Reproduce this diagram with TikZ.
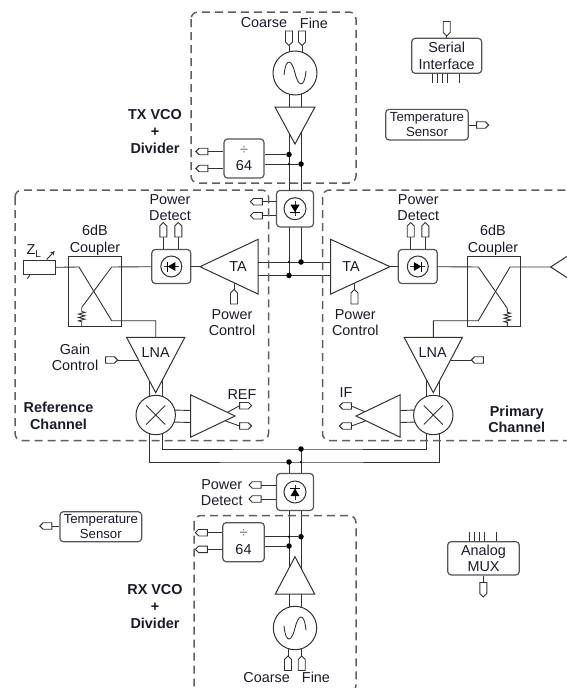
\documentclass[tikz,border=0pt]{standalone}
\usepackage{fontspec}
\setmainfont{Liberation Sans}
\usepackage{tikz}
\usetikzlibrary{shapes.geometric,shapes.symbols,arrows.meta,backgrounds,calc,decorations.pathmorphing}
\definecolor{inkdark}{RGB}{25,28,40}
\definecolor{linedark}{RGB}{50,50,50}
\definecolor{boxedge}{RGB}{85,85,85}
\definecolor{dashgray}{RGB}{95,95,95}
\definecolor{signgray}{RGB}{105,105,115}
\tikzset{
  lab/.style={text=inkdark,align=center,inner sep=0pt,font=\fontsize{14.4}{16.6}\selectfont},
  blab/.style={lab,font=\fontsize{14.4}{16.6}\selectfont\bfseries},
  wire/.style={draw=linedark,line width=0.9pt},
  rbox/.style={rectangle,rounded corners=3.5pt,draw=boxedge,line width=1.2pt,fill=white,lab},
  cbox/.style={rectangle,draw=linedark,line width=0.9pt,inner sep=0pt},
  zone/.style={draw=dashgray,line width=1.5pt,dash pattern=on 8pt off 5pt,rounded corners=7pt},
  tri/.style={isosceles triangle,isosceles triangle stretches,draw=linedark,fill=white,
              line width=1pt,inner sep=0pt,outer sep=0pt,anchor=apex},
  disc/.style={circle,draw=linedark,fill=white,line width=1pt,inner sep=0pt,outer sep=0pt},
  pinh/.style={signal,draw=linedark,fill=white,line width=0.9pt,inner sep=0pt,outer sep=0pt,
               minimum width=12pt,minimum height=6.5pt},
  pinv/.style={signal,draw=linedark,fill=white,line width=0.9pt,inner sep=0pt,outer sep=0pt,
               minimum width=7pt,minimum height=11pt},
  pinw/.style={pinh,signal to=west},
  pine/.style={pinh,signal to=east},
  pinn/.style={pinv,signal to=north},
  pinz/.style={pinv,signal to=south},
  bigdot/.style={circle,fill=black,inner sep=0pt,minimum size=5.5pt},
  tinydot/.style={circle,fill=black,inner sep=0pt,minimum size=2.4pt},
}
\begin{document}
\begin{tikzpicture}[x=1pt,y=-1pt]
  \useasboundingbox (0,0) rectangle (566,688);
  % ── dashed block outlines ──
  \draw[zone] (191,12) rectangle (356,183);
  \draw[zone] (15,190) rectangle (268.5,440.5);
  \draw[zone] (322.5,190) rectangle (585,440.5);
  \draw[zone] (194,515.5) rectangle (356,692);
  % ── TX VCO + divider ──
  \node[lab] (coarset) at (264,23) {Coarse};
  \node[lab] (finet)   at (314,23) {Fine};
  \node[pinz] (pct) at (289,36.5) {};
  \node[pinz] (pft) at (302,36.5) {};
  \node[disc,minimum size=44pt] (vcot) at (295,73) {};
  \node[tri,minimum width=40pt,minimum height=37pt,shape border rotate=-90] (buft) at (295,144) {};
  \node[rbox,minimum width=40pt,minimum height=39pt] (divt) at (244,158.5) {\textcolor{signgray}{÷}\\64};
  \node[pinw] (pdt1) at (203.5,151.5) {};
  \node[pinw] (pdt2) at (203.5,168.5) {};
  \node[blab] (txlab) at (155,131.5) {TX VCO\\+\\Divider};
  \node[bigdot]  (jt1) at (289,154.5) {};
  \node[bigdot]  (jt2) at (301,164) {};
  \node[tinydot] (jt3) at (289,164) {};
  % ── LO distribution, top ──
  \node[rbox,minimum width=37pt,minimum height=36.5pt] (dbt) at (295,208.7) {};
  \node[disc,minimum size=22pt] (ddt) at (dbt.center) {};
  \node[pinw] (pbt1) at (258,201.7) {};
  \node[pinw] (pbt2) at (258,215.7) {};
  \node[bigdot]  (jm1) at (301,262) {};
  \node[bigdot]  (jm2) at (289,275.5) {};
  \node[tinydot] (jm3) at (289,262) {};
  % ── Reference channel ──
  \node[tri,minimum width=54.7pt,minimum height=58pt,shape border rotate=180] (tal) at (200,266.7) {};
  \node[lab] (taltxt) at (238,266.7) {TA};
  \node[pinn] (pcl) at (234,298.5) {};
  \node[lab] (pctxl) at (232,322.5) {Power\\Control};
  \node[rbox,minimum width=39pt,minimum height=34pt] (dbl) at (171.3,266.5) {};
  \node[disc,minimum size=21pt] (ddl) at (dbl.center) {};
  \node[pinn] (pdl1) at (163.3,231.5) {};
  \node[pinn] (pdl2) at (178.3,231.5) {};
  \node[lab] (pdtxl) at (170,207.5) {Power\\Detect};
  \node[cbox,minimum width=53.4pt,minimum height=70pt] (cpl) at (95,291.7) {};
  \node[lab] (cptxl) at (95,240) {6dB\\Coupler};
  \node[cbox,minimum width=32.4pt,minimum height=14.7pt] (zl) at (39.5,267.3) {};
  \node[lab] (zltxt) at (34,251) {Z\textsubscript{L}};
  \node[tri,minimum width=58.3pt,minimum height=55.4pt,shape border rotate=-90] (lnal) at (155.7,392.7) {};
  \node[lab] (lnaltxt) at (155.7,352.3) {LNA};
  \node[pine] (pgl) at (110,360) {};
  \node[lab] (gaintxt) at (75,357.5) {Gain\\Control};
  \node[disc,minimum size=39.4pt] (mixl) at (155.7,415) {};
  \node[tri,minimum width=42.3pt,minimum height=44.3pt] (ampl) at (235,416) {};
  \node[pine] (pol1) at (244,405.7) {};
  \node[pine] (pol2) at (244,426) {};
  \node[lab] (reftxt) at (242,394.3) {REF};
  \node[blab] (refchan) at (58.5,416) {Reference\\Channel};
  % ── Primary channel ──
  \node[tri,minimum width=54.7pt,minimum height=59.3pt] (tar) at (390,266.7) {};
  \node[lab] (tartxt) at (351,266.7) {TA};
  \node[pinn] (pcr) at (354.5,298.5) {};
  \node[lab] (pctxr) at (355.3,322.5) {Power\\Control};
  \node[rbox,minimum width=39pt,minimum height=34pt] (dbr) at (417.8,266.5) {};
  \node[disc,minimum size=21pt] (ddr) at (dbr.center) {};
  \node[pinn] (pdr1) at (410.7,231.5) {};
  \node[pinn] (pdr2) at (425.3,231.5) {};
  \node[lab] (pdtxr) at (418.3,207.5) {Power\\Detect};
  \node[cbox,minimum width=53.4pt,minimum height=70pt] (cpr) at (494,291.7) {};
  \node[lab] (cptxr) at (493,240) {6dB\\Coupler};
  \node[tri,minimum width=26pt,minimum height=20pt,shape border rotate=180] (ant) at (550.7,267) {};
  \node[tri,minimum width=58.3pt,minimum height=55.4pt,shape border rotate=-90] (lnar) at (433.3,392.7) {};
  \node[lab] (lnartxt) at (432.7,352.3) {LNA};
  \node[pinw] (pgr) at (479,360) {};
  \node[disc,minimum size=39.4pt] (mixr) at (433.3,415) {};
  \node[tri,minimum width=42.3pt,minimum height=44pt,shape border rotate=180] (ampr) at (356,416) {};
  \node[pinw] (por1) at (347,406) {};
  \node[pinw] (por2) at (347,426) {};
  \node[lab] (iftxt) at (346,392.7) {IF};
  \node[blab] (prichan) at (516.7,419.5) {Primary\\Channel};
  % ── LO distribution, bottom ──
  \node[bigdot]  (jb1) at (301,449) {};
  \node[bigdot]  (jb2) at (289,462) {};
  \node[tinydot] (jb3) at (301,462) {};
  \node[rbox,minimum width=37pt,minimum height=37pt] (dbb) at (295,492) {};
  \node[disc,minimum size=22pt] (ddb) at (dbb.center) {};
  \node[pinw] (pbb1) at (256.7,485) {};
  \node[pinw] (pbb2) at (256.7,499) {};
  \node[lab] (pdtxb) at (221.7,492.5) {Power\\Detect};
  % ── RX VCO + divider ──
  \node[rbox,minimum width=41.6pt,minimum height=39pt] (divb) at (243.5,542.2) {\textcolor{signgray}{÷}\\64};
  \node[pinw] (pdb1) at (203,532.7) {};
  \node[pinw] (pdb2) at (203,549.3) {};
  \node[bigdot]  (jr1) at (301,536.7) {};
  \node[bigdot]  (jr2) at (289,546) {};
  \node[tinydot] (jr3) at (289,536.7) {};
  \node[tri,minimum width=39.5pt,minimum height=37.5pt,shape border rotate=90] (bufb) at (295,556.7) {};
  \node[disc,minimum size=43.4pt] (vcob) at (295,628) {};
  \node[pinn] (pcb) at (288,665) {};
  \node[pinn] (pfb) at (301.7,665) {};
  \node[lab] (coarseb) at (266.7,677.7) {Coarse};
  \node[lab] (fineb)   at (316,677.7) {Fine};
  \node[blab] (rxlab) at (155,606.5) {RX VCO\\+\\Divider};
  % ── stand-alone blocks ──
  \node[rbox,minimum width=70pt,minimum height=35pt] (serial) at (446.7,55.8) {Serial\\Interface};
  \node[pinz] (pser) at (446.7,27) {};
  \node[rbox,minimum width=82.6pt,minimum height=30.7pt,font=\fontsize{13.2}{15.4}\selectfont] (tempt) at (427,124.7) {Temperature\\Sensor};
  \node[pine] (ptt) at (481,125) {};
  \node[rbox,minimum width=81.7pt,minimum height=30pt,font=\fontsize{13.2}{15.4}\selectfont] (tempb) at (100.8,526.7) {Temperature\\Sensor};
  \node[pinw] (ptb) at (47.5,526) {};
  \node[rbox,minimum width=71.6pt,minimum height=33.3pt] (amux) at (483.5,558.3) {Analog\\MUX};
  \node[pinz] (pmux) at (483.3,588) {};
  % ── glyphs inside the circles ──
  \foreach \d/\r in {ddt/-90,ddb/90,ddl/180,ddr/0}{
    \begin{scope}[shift={(\d.center)},rotate=\r]
      \draw[wire] (-7.5,0) -- (7.5,0);
      \fill[black] (-4,-4.5) -- (3.5,0) -- (-4,4.5) -- cycle;
      \draw[line width=1.1pt,black] (3.7,-5) -- (3.7,5);
    \end{scope}
  }
  \foreach \m in {mixl,mixr}{
    \draw[wire] ($(\m)+(-9.5,-9.5)$) -- ($(\m)+(9.5,9.5)$);
    \draw[wire] ($(\m)+(-9.5,9.5)$) -- ($(\m)+(9.5,-9.5)$);
  }
  \foreach \v/\s in {vcot/1,vcob/-1}{
    \draw[wire] ($(\v)+(-11,2*\s)$) .. controls ($(\v)+(-9,-17*\s)$) and ($(\v)+(-3,-13*\s)$) .. (\v.center)
      .. controls ($(\v)+(3,13*\s)$) and ($(\v)+(9,17*\s)$) .. ($(\v)+(11,-2*\s)$);
  }
  % ── connectors (behind the white blocks) ──
  \begin{scope}[on background layer]
    \draw[wire] (pct.south) -- (pct.south |- vcot);
    \draw[wire] (pft.south) -- (pft.south |- vcot);
    \draw[wire] ($(vcot)+(-6,0)$) -- (jm2.center);
    \draw[wire] ($(vcot)+(6,0)$) -- (jm1.center);
    \draw[wire] (divt.east |- jt1) -- (jt1);
    \draw[wire] (divt.east |- jt2) -- (jt2);
    \draw[wire] (pdt1.east) -- (pdt1 -| divt.west);
    \draw[wire] (pdt2.east) -- (pdt2 -| divt.west);
    \draw[wire] (pbt1.east) -- (pbt1 -| dbt.west);
    \draw[wire] (pbt2.east) -- (pbt2 -| dbt.west);
    % the two lines between the amplifiers
    \draw[wire] ($(tal.lower side)+(0,-4.7)$) -- ($(tar.lower side)+(0,-4.7)$);
    \draw[wire] ($(tal.lower side)+(0,8.8)$) -- ($(tar.lower side)+(0,8.8)$);
    % left side
    \draw[wire] (tal.apex) -- (dbl.east |- tal.apex);
    \draw[wire] (pcl.north) -- (tal.lower side -| pcl);
    \draw[wire] (pdl1.south) -- (pdl1.south |- dbl.north);
    \draw[wire] (pdl2.south) -- (pdl2.south |- dbl.north);
    \draw[wire] (dbl.west |- tal.apex) -- (111.7,267) -- (81.7,307.5) coordinate (resl);
    \draw[wire,decorate,decoration={zigzag,amplitude=3.2pt,segment length=3.4pt,pre length=4pt,post length=4.5pt}] (resl) -- (resl |- cpl.south);
    \draw[wire] (zl.east) -- (79,267) -- (111.7,320.7) -| (lnal.lower side);
    \draw[wire,-{Stealth[length=4.5pt,width=4.5pt]}] ($(zl.north east)+(-9.5,0)$) -- ($(zl.north east)+(-1.5,-8.5)$);
    \draw[wire] ($(zl.south west)+(7,0)$) -- ++(-2.5,3.5);
    \draw[wire] (pgl.east) -- (lnal.apex |- pgl);
    \draw[wire] ($(mixl)+(-6.5,0)$) -- ($(lnal.apex)+(-6.5,-20)$);
    \draw[wire] ($(mixl)+(6.5,0)$) -- ($(lnal.apex)+(6.5,-20)$);
    \draw[wire] ($(mixl)+(0,-5.5)$) -- ($(ampl.lower side)+(0,-5.5)$);
    \draw[wire] ($(mixl)+(0,6.5)$) -- ($(ampl.lower side)+(0,6.5)$);
    \draw[wire] (pol1.west) -- ++(-14,7.6);
    \draw[wire] (pol2.west) -- ++(-14,-5);
    % right side
    \draw[wire] (tar.apex) -- (dbr.west |- tar.apex);
    \draw[wire] (pcr.north) -- (tar.lower side -| pcr);
    \draw[wire] (pdr1.south) -- (pdr1.south |- dbr.north);
    \draw[wire] (pdr2.south) -- (pdr2.south |- dbr.north);
    \draw[wire] (dbr.east |- tar.apex) -- (478.3,267) -- (507.3,308.3) coordinate (resr);
    \draw[wire,decorate,decoration={zigzag,amplitude=3.2pt,segment length=3.4pt,pre length=4pt,post length=4.5pt}] (resr) -- (resr |- cpr.south);
    \draw[wire] (ant.apex) -- (510,267) -- (478.3,320.7) -| (lnar.lower side);
    \draw[wire] (pgr.east) -- (lnar.apex |- pgr);
    \draw[wire] ($(mixr)+(-6.5,0)$) -- ($(lnar.apex)+(-6.5,-20)$);
    \draw[wire] ($(mixr)+(6.5,0)$) -- ($(lnar.apex)+(6.5,-20)$);
    \draw[wire] ($(mixr)+(0,-5.5)$) -- ($(ampr.lower side)+(0,-5.5)$);
    \draw[wire] ($(mixr)+(0,6.5)$) -- ($(ampr.lower side)+(0,6.5)$);
    \draw[wire] (por1.east) -- ++(14,6);
    \draw[wire] (por2.east) -- ++(14,-5);
    % LO bus
    \draw[wire] ($(mixl)+(-6.5,0)$) |- (jb2.center) -| ($(mixr)+(6.5,0)$);
    \draw[wire] ($(mixl)+(6.5,0)$) |- (jb1.center) -| ($(mixr)+(-6.5,0)$);
    \draw[wire] (jb2.center) -- ($(vcob)+(-6,0)$);
    \draw[wire] (jb1.center) -- ($(vcob)+(6,0)$);
    \draw[wire] (pbb1.east) -- (pbb1 -| dbb.west);
    \draw[wire] (pbb2.east) -- (pbb2 -| dbb.west);
    \draw[wire] (divb.east |- jr1) -- (jr1);
    \draw[wire] (divb.east |- jr2) -- (jr2);
    \draw[wire] (pdb1.east) -- (pdb1 -| divb.west);
    \draw[wire] (pdb2.east) -- (pdb2 -| divb.west);
    \draw[wire] (pcb.north) -- (pcb.north |- vcob);
    \draw[wire] (pfb.north) -- (pfb.north |- vcob);
    % stand-alone blocks
    \draw[wire] (pser.south) -- (serial.north);
    \foreach \x in {-14,-9,-4,1,12.3}{
      \draw[wire] ($(serial.south)+(\x,0)$) -- ++(0,9.5);
    }
    \draw[wire] (tempt.east |- ptt) -- (ptt.west);
    \draw[wire] (tempb.west |- ptb) -- (ptb.east);
    \foreach \x in {-14.2,-9.2,-4.2,0.8,13.2}{
      \draw[wire] ($(amux.north)+(\x,0)$) -- ++(0,-9);
    }
    \draw[wire] (amux.south -| pmux) -- (pmux.north);
  \end{scope}
\end{tikzpicture}
\end{document}
